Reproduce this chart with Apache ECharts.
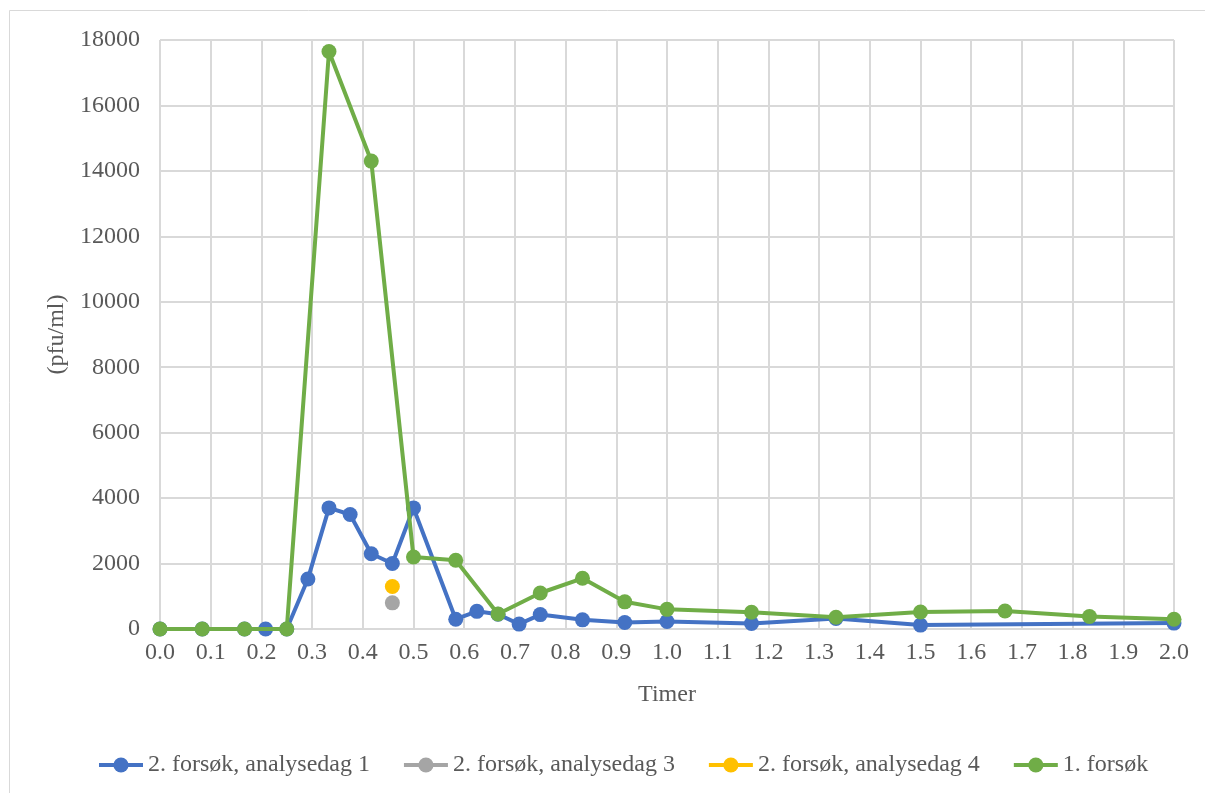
<!DOCTYPE html>
<html>
<head>
<meta charset="utf-8">
<script src="https://cdn.jsdelivr.net/npm/echarts@6/dist/echarts.min.js"></script>
<style>
  html, body { margin: 0; padding: 0; background: #fff; }
  #chart { width: 1205px; height: 793px; }
</style>
</head>
<body>
<div id="chart"></div>
<script>
// Sampling times in hours
const blueTimes = [0, 0.0833, 0.1667, 0.2083, 0.25, 0.2917, 0.3333, 0.375, 0.4167, 0.4583, 0.5,
  0.5833, 0.625, 0.6667, 0.7083, 0.75, 0.8333, 0.9167, 1.0, 1.1667, 1.3333, 1.5, 2.0];
const blueValues = [0, 0, 0, 0, 0, 1530, 3700, 3500, 2300, 2000, 3700,
  300, 540, 450, 150, 440, 280, 200, 230, 170, 320, 120, 180];

const grayTimes = [0.4583];
const grayValues = [800];

const yellowTimes = [0.4583];
const yellowValues = [1300];

const greenTimes = [0, 0.0833, 0.1667, 0.25, 0.3333, 0.4167, 0.5, 0.5833, 0.6667, 0.75, 0.8333,
  0.9167, 1.0, 1.1667, 1.3333, 1.5, 1.6667, 1.8333, 2.0];
const greenValues = [0, 0, 0, 0, 17650, 14300, 2200, 2100, 460, 1100, 1550,
  830, 600, 510, 360, 520, 550, 380, 300];

const seriesNames = ['2. forsøk, analysedag 1', '2. forsøk, analysedag 3', '2. forsøk, analysedag 4', '1. forsøk'];
const seriesColors = ['#4472C4', '#A5A5A5', '#FFC000', '#70AD47'];

const pairs = (xs, ys) => xs.map((x, i) => [x, ys[i]]);

const FONT = '"Liberation Serif", "Times New Roman", serif';
const TEXT = '#595959';
const GRID = '#d9d9d9';

function lineSeries(i, data) {
  return {
    name: seriesNames[i],
    type: 'line',
    data: data,
    symbol: 'circle',
    symbolSize: 15,
    showAllSymbol: true,
    lineStyle: { width: 4, color: seriesColors[i] },
    itemStyle: { color: seriesColors[i] },
    z: 2 + i
  };
}

const chart = echarts.init(document.getElementById('chart'), null, { renderer: 'canvas' });
chart.setOption({
  animation: false,
  backgroundColor: '#fff',
  textStyle: { fontFamily: FONT },
  graphic: [{
    type: 'rect',
    shape: { x: 9.5, y: 10.5, width: 1200, height: 800 },
    style: { fill: 'none', stroke: '#d9d9d9', lineWidth: 1 },
    silent: true
  }],
  grid: { left: 160, right: 31, top: 40, bottom: 164 },
  xAxis: {
    type: 'value',
    min: 0, max: 2, interval: 0.1,
    name: 'Timer',
    nameLocation: 'middle',
    nameGap: 54,
    nameTextStyle: { fontFamily: FONT, fontSize: 24, color: TEXT },
    axisLine: { show: true, lineStyle: { color: GRID, width: 2 } },
    axisTick: { show: false },
    axisLabel: {
      fontFamily: FONT, fontSize: 24, color: TEXT, margin: 12,
      formatter: v => v.toFixed(1)
    },
    splitLine: { show: true, lineStyle: { color: GRID, width: 2 } }
  },
  yAxis: {
    type: 'value',
    min: 0, max: 18000, interval: 2000,
    name: '(pfu/ml)',
    nameLocation: 'middle',
    nameGap: 84,
    nameRotate: 90,
    nameTextStyle: { fontFamily: FONT, fontSize: 24, color: TEXT },
    axisLine: { show: false },
    axisTick: { show: false },
    axisLabel: { fontFamily: FONT, fontSize: 24, color: TEXT, margin: 20, formatter: v => String(v) },
    splitLine: { show: true, lineStyle: { color: GRID, width: 2 } }
  },
  legend: {
    data: seriesNames,
    bottom: 11,
    left: 92,
    itemWidth: 44,
    itemHeight: 19,
    itemGap: 32,
    lineStyle: { width: 4 },
    textStyle: { fontFamily: FONT, fontSize: 24, color: TEXT }
  },
  series: [
    lineSeries(0, pairs(blueTimes, blueValues)),
    lineSeries(1, pairs(grayTimes, grayValues)),
    lineSeries(2, pairs(yellowTimes, yellowValues)),
    lineSeries(3, pairs(greenTimes, greenValues))
  ]
});
</script>
</body>
</html>
